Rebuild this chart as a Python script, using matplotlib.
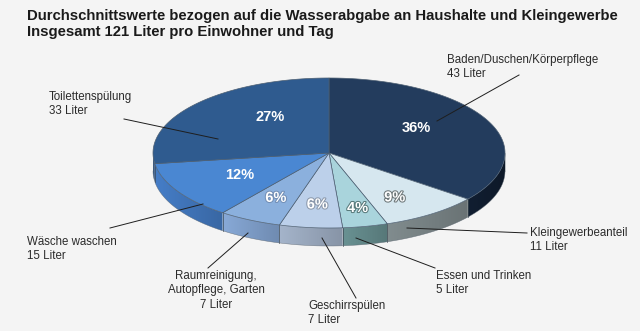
import numpy as np
import matplotlib
matplotlib.use("Agg")
import matplotlib.pyplot as plt
from matplotlib.patches import Polygon
import matplotlib.patheffects as pe
from matplotlib.colors import to_rgb

# ---------------- data ----------------
categories = ["Baden/Duschen/Körperpflege", "Kleingewerbeanteil", "Essen und Trinken",
              "Geschirrspülen", "Raumreinigung,\nAutopflege, Garten", "Wäsche waschen",
              "Toilettenspülung"]
liters = [43, 11, 5, 7, 7, 15, 33]
percent_labels = ["36%", "9%", "4%", "6%", "6%", "12%", "27%"]
title = ("Durchschnittswerte bezogen auf die Wasserabgabe an Haushalte und Kleingewerbe\n"
         "Insgesamt 121 Liter pro Einwohner und Tag")

# ---------------- style ----------------
top_colors = ["#233c5d", "#d6e7ef", "#a9d4dc", "#bcd0ea", "#8bb0dd", "#4a87d2", "#2f5b8f"]
side_colors = ["#0f1b2c", "#737d7f", "#5e8283", "#93a1b5", "#7997c0", "#3e70b2", "#2a4f7d"]
light_text = [False, True, True, True, True, False, False]
pct_frac = [(0.55, 0.75), (0.64, 0.73), (0.79, 0.75), (0.64, 0.69), (0.67, 0.67),
            (0.59, 0.58), (0.44, 0.73)]
label_layout = [
    dict(xy=(447, 54), ha="left", line=((437, 121), (519, 75))),
    dict(xy=(530, 227), ha="left", line=((407, 228), (527, 233))),
    dict(xy=(436, 270), ha="left", line=((356, 238), (435, 268))),
    dict(xy=(308, 300), ha="left", line=((322, 238), (356, 298))),
    dict(xy=(216, 270), ha="center", line=((248, 233), (208, 268))),
    dict(xy=(27, 236), ha="left", line=((203, 204), (110, 228))),
    dict(xy=(49, 91), ha="left", line=((218, 139), (124, 119))),
]

cx, cy, rx, ry, depth = 329.0, 153.0, 176.0, 75.0, 18.0

plt.rcParams['font.family'] = ['Liberation Sans', 'DejaVu Sans']

fig = plt.figure(figsize=(6.4, 3.31), dpi=100)
fig.patch.set_facecolor("#f4f4f4")
ax = fig.add_axes([0, 0, 1, 1])
ax.set_xlim(0, 640)
ax.set_ylim(331, 0)
ax.axis("off")
ax.set_facecolor("#f4f4f4")

def pt(t_deg, dy=0.0):
    t = np.radians(t_deg)
    return cx + rx * np.cos(t), cy - ry * np.sin(t) + dy

vals = np.array(liters, dtype=float)
fracs = vals / vals.sum()
starts = 90 - 360 * np.concatenate([[0], np.cumsum(fracs)[:-1]])
ends = starts - 360 * fracs  # clockwise

def shade(c, f):
    return tuple(np.clip(np.array(to_rgb(c)) * f, 0, 1))

# ---------------- sides (front half only) ----------------
for i in range(len(vals)):
    lo, hi = max(ends[i], -180), min(starts[i], 0)
    if hi <= lo:
        continue
    ts = np.linspace(lo, hi, 120)
    top = [pt(t) for t in ts]
    bot = [pt(t, depth) for t in ts[::-1]]
    poly = Polygon(top + bot, closed=True, facecolor="none", edgecolor="none")
    ax.add_patch(poly)
    x_left, x_right = pt(lo)[0], pt(hi)[0]
    grad = np.linspace(1.12, 0.92, 64)
    img = np.array([[shade(side_colors[i], g) for g in grad]])
    im = ax.imshow(img, extent=(x_left, x_right, cy + ry + depth + 2, cy - 2),
                   aspect="auto", interpolation="bilinear", zorder=1)
    im.set_clip_path(poly)
    for tb in (lo, hi):
        if -180 < tb < 0:
            p = pt(tb)
            ax.plot([p[0], p[0]], [p[1], p[1] + depth], color="#3a4650", lw=0.5,
                    alpha=0.6, zorder=2)

tt = np.linspace(-180, 0, 200)
bx = cx + rx * np.cos(np.radians(tt)); by = cy - ry * np.sin(np.radians(tt)) + depth
ax.plot(bx, by, color="#5a6570", lw=0.4, alpha=0.7, zorder=2)
ax.plot([cx - rx, cx - rx], [cy, cy + depth], color="#5a6570", lw=0.4, alpha=0.7, zorder=2)
ax.plot([cx + rx, cx + rx], [cy, cy + depth], color="#5a6570", lw=0.4, alpha=0.7, zorder=2)

# ---------------- top surface ----------------
for i in range(len(vals)):
    ts = np.linspace(starts[i], ends[i], 200)
    pts = [(cx, cy)] + [pt(t) for t in ts]
    ax.add_patch(Polygon(pts, closed=True, facecolor=top_colors[i],
                         edgecolor="#4d5f72", lw=0.5, zorder=3))

# ---------------- percent labels ----------------
for i in range(len(vals)):
    mid = np.radians((starts[i] + ends[i]) / 2)
    fx, fy = pct_frac[i]
    x = cx + fx * rx * np.cos(mid)
    y = cy - fy * ry * np.sin(mid)
    kw = {}
    if light_text[i]:
        kw["path_effects"] = [pe.withStroke(linewidth=1.5, foreground=shade(side_colors[i], 0.95))]
    ax.text(x, y, percent_labels[i], color="white", fontsize=10.5, fontweight="bold",
            ha="center", va="center", zorder=5, **kw)

# ---------------- outer labels ----------------
for i, lay in enumerate(label_layout):
    txt = f"{categories[i]}\n{liters[i]} Liter"
    ax.text(lay["xy"][0], lay["xy"][1], txt, fontsize=8.3, color="#2b2b2b",
            ha=lay["ha"], va="top", linespacing=1.25, multialignment=lay["ha"], zorder=5)
    (x0, y0), (x1, y1) = lay["line"]
    ax.plot([x0, x1], [y0, y1], color="#1e1e1e", lw=0.7, zorder=6)

# ---------------- title ----------------
ax.text(27, 9, title, fontsize=10.7, fontweight="bold", color="#1a1a1a",
        ha="left", va="top", linespacing=1.15, zorder=5)

fig.savefig("out.png", dpi=100, facecolor=fig.get_facecolor())
